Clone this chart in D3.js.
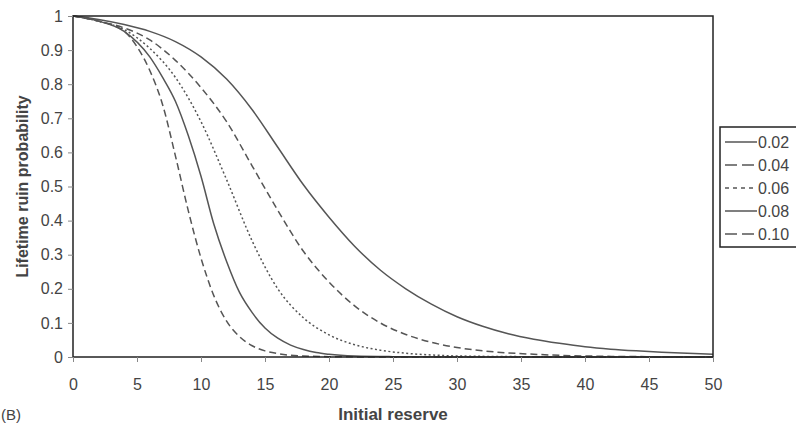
<!DOCTYPE html>
<html>
<head>
<meta charset="utf-8">
<script src="https://d3js.org/d3.v7.min.js"></script>
<style>
  body { margin: 0; background: #fff; }
  text { font-family: "Liberation Sans", Arial, sans-serif; fill: #444; }
</style>
</head>
<body>
<svg id="chart" width="796" height="425"></svg>
<script>
// reserve values (x), one list per curve
const x02 = [0, 2, 4, 6, 8, 10, 12, 14, 16, 18, 20, 22, 24, 26, 28, 30, 32, 34, 36, 38, 40, 42, 44, 46, 48, 50];
const y02 = [1, 0.99, 0.975, 0.955, 0.925, 0.88, 0.815, 0.725, 0.615, 0.505, 0.41, 0.325, 0.255, 0.2, 0.155, 0.118, 0.09, 0.068, 0.052, 0.04, 0.03, 0.023, 0.018, 0.014, 0.011, 0.008];

const x04 = [0, 2, 4, 6, 8, 10, 12, 14, 16, 18, 20, 22, 24, 26, 28, 30, 32, 34, 36, 38, 40, 45, 50];
const y04 = [1, 0.985, 0.965, 0.93, 0.87, 0.79, 0.69, 0.56, 0.43, 0.31, 0.22, 0.15, 0.1, 0.066, 0.043, 0.028, 0.018, 0.012, 0.008, 0.005, 0.003, 0.001, 0];

const x06 = [0, 2, 4, 6, 8, 10, 12, 14, 16, 18, 20, 22, 24, 26, 28, 30, 35, 40, 50];
const y06 = [1, 0.985, 0.96, 0.905, 0.82, 0.69, 0.52, 0.34, 0.2, 0.115, 0.065, 0.036, 0.02, 0.011, 0.006, 0.003, 0.001, 0, 0];

const x08 = [0, 2, 4, 6, 7, 8, 9, 10, 11, 12, 13, 14, 15, 16, 17, 18, 19, 20, 22, 25, 30, 50];
const y08 = [1, 0.985, 0.955, 0.88, 0.82, 0.75, 0.65, 0.53, 0.39, 0.28, 0.19, 0.13, 0.085, 0.055, 0.035, 0.022, 0.013, 0.008, 0.003, 0.001, 0, 0];

const x10 = [0, 2, 4, 5, 6, 7, 8, 9, 10, 11, 12, 13, 14, 15, 16, 17, 18, 20, 25, 50];
const y10 = [1, 0.985, 0.955, 0.91, 0.84, 0.74, 0.59, 0.43, 0.29, 0.18, 0.105, 0.06, 0.033, 0.018, 0.01, 0.005, 0.003, 0.001, 0, 0];

const seriesNames = ['0.02', '0.04', '0.06', '0.08', '0.10'];
const xTicks = [0, 5, 10, 15, 20, 25, 30, 35, 40, 45, 50];
const yTicks = [0, 0.1, 0.2, 0.3, 0.4, 0.5, 0.6, 0.7, 0.8, 0.9, 1];

const series = [
  { name: seriesNames[0], xs: x02, ys: y02, dash: null, key: null },
  { name: seriesNames[1], xs: x04, ys: y04, dash: '7,4', key: '12,5' },
  { name: seriesNames[2], xs: x06, ys: y06, dash: '2,2.5', key: '4,4' },
  { name: seriesNames[3], xs: x08, ys: y08, dash: null, key: null },
  { name: seriesNames[4], xs: x10, ys: y10, dash: '7,4', key: '12,5' }
];

const margin = { top: 16, left: 73, right: 83, bottom: 68 };
const width = 796 - margin.left - margin.right;
const height = 425 - margin.top - margin.bottom;

const svg = d3.select('#chart');
const g = svg.append('g').attr('transform', `translate(${margin.left},${margin.top})`);

const x = d3.scaleLinear().domain([0, 50]).range([0, width]);
const y = d3.scaleLinear().domain([0, 1]).range([height, 0]);

// curves
const line = d3.line()
  .x(d => x(d[0]))
  .y(d => y(d[1]))
  .curve(d3.curveMonotoneX);

series.forEach(s => {
  g.append('path')
    .datum(s.xs.map((v, i) => [v, s.ys[i]]))
    .attr('fill', 'none')
    .attr('stroke', '#555')
    .attr('stroke-width', 1.5)
    .attr('stroke-dasharray', s.dash)
    .attr('d', line);
});

// plot frame
g.append('rect')
  .attr('width', width).attr('height', height)
  .attr('fill', 'none').attr('stroke', '#222').attr('stroke-width', 1.5);

// axes
const xAxis = g.append('g')
  .attr('transform', `translate(0,${height})`)
  .call(d3.axisBottom(x).tickValues(xTicks).tickSize(5).tickPadding(17).tickFormat(d3.format('d')));

const yAxis = g.append('g')
  .call(d3.axisLeft(y).tickValues(yTicks).tickSize(5).tickPadding(5).tickFormat(d => d === 0 || d === 1 ? d : d3.format('.1f')(d)));

[xAxis, yAxis].forEach(a => {
  a.select('.domain').remove();
  a.selectAll('.tick line').attr('stroke', '#888');
  a.selectAll('.tick text').style('font-size', '16px').attr('fill', '#444');
});

// axis titles
svg.append('text')
  .attr('x', margin.left + width / 2).attr('y', 420)
  .attr('text-anchor', 'middle')
  .style('font-size', '17px').style('font-weight', 'bold')
  .text('Initial reserve');

svg.append('text')
  .attr('transform', `translate(28,${margin.top + height / 2}) rotate(-90)`)
  .attr('text-anchor', 'middle')
  .style('font-size', '16px').style('font-weight', 'bold')
  .text('Lifetime ruin probability');

svg.append('text')
  .attr('x', 1).attr('y', 420)
  .style('font-size', '15px')
  .text('(B)');

// legend
const legend = svg.append('g').attr('transform', 'translate(720,127)');
legend.append('rect')
  .attr('width', 80).attr('height', 120)
  .attr('fill', '#fff').attr('stroke', '#222').attr('stroke-width', 1.5);

series.forEach((s, i) => {
  const yy = 15 + i * 23;
  legend.append('line')
    .attr('x1', 5).attr('x2', 37).attr('y1', yy).attr('y2', yy)
    .attr('stroke', '#555').attr('stroke-width', 1.5)
    .attr('stroke-dasharray', s.key);
  legend.append('text')
    .attr('x', 38).attr('y', yy + 6)
    .style('font-size', '16px')
    .text(s.name);
});
</script>
</body>
</html>
